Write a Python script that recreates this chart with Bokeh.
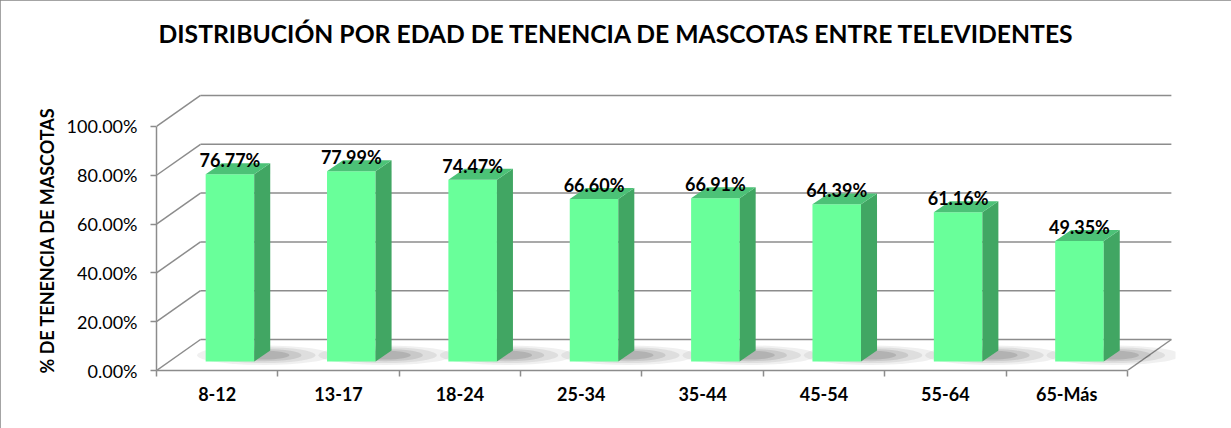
from bokeh.plotting import figure
from bokeh.models import Range1d, FixedTicker, PrintfTickFormatter, ColumnDataSource, Title
from bokeh.core.properties import value
from bokeh.embed import file_html
from bokeh.resources import INLINE

categories = ["8-12", "13-17", "18-24", "25-34", "35-44", "45-54", "55-64", "65-Más"]
values = [76.77, 77.99, 74.47, 66.60, 66.91, 64.39, 61.16, 49.35]
y_ticks = [0, 20, 40, 60, 80, 100]
title_text = "DISTRIBUCIÓN POR EDAD DE TENENCIA DE MASCOTAS ENTRE TELEVIDENTES"
y_title = "% DE TENENCIA DE MASCOTAS"

W, H = 1231, 428
FONT = "Lato"
n = len(categories)
DX, DY = 0.3625, 12.7     # floor depth (category units, % units)
F0 = 0.29                 # bar front-face depth fraction
BW = 0.40                 # bar width (category units)
BDX, BDY = 0.132, 4.5     # bar depth
FRONT = "#69FF9A"
SIDE = "#41A663"
TOP = "#4CC277"
GRID = "#8C8C8C"

p = figure(width=W, height=H, x_range=Range1d(0, n + DX + 0.034), y_range=Range1d(0, 113.5),
           output_backend="svg", toolbar_location=None,
           min_border_left=156, min_border_right=56, min_border_top=93, min_border_bottom=58)
p.styles = {"outline": "2px solid #868686", "outline-offset": "-2px"}
p.outline_line_color = None
p.xgrid.visible = False
p.ygrid.visible = False

# spacer between frame and title, then the title itself
p.add_layout(Title(text=" ", text_font_size="10px", standoff=28), "above")
p.add_layout(Title(text=title_text, align="left", offset=2, text_font=FONT, text_font_size="24.7px",
                   text_font_style="bold", text_color="black", standoff=10), "above")

# y axis
ya = p.yaxis[0]
ya.bounds = (0, 100)
ya.ticker = FixedTicker(ticks=y_ticks)
ya.formatter = PrintfTickFormatter(format="%.2f%%")
ya.axis_line_color = GRID
ya.axis_line_width = 1.5
ya.major_tick_line_color = GRID
ya.major_tick_line_width = 1.5
ya.major_tick_out = 6
ya.major_tick_in = 0
ya.minor_tick_line_color = None
ya.major_label_text_font = FONT
ya.major_label_text_font_size = "18px"
ya.major_label_text_color = "black"
ya.major_label_standoff = 13

# y axis title, placed outside the tick labels, starting near the 0% level
p.add_layout(Title(text=y_title, align="left", offset=-3, text_font=FONT, text_font_size="18px",
                   text_font_style="bold", text_color="black", standoff=12), "left")

# x axis
xa = p.xaxis[0]
xa.bounds = (0, n)
centers = [i + 0.5 for i in range(n)]
xa.ticker = FixedTicker(ticks=centers, minor_ticks=list(range(n + 1)))
xa.major_label_overrides = {c: lab for c, lab in zip(centers, categories)}
xa.axis_line_color = GRID
xa.axis_line_width = 1.5
xa.major_tick_line_color = None
xa.major_tick_out = 0
xa.major_tick_in = 0
xa.minor_tick_line_color = GRID
xa.minor_tick_line_width = 1.5
xa.minor_tick_out = 6
xa.minor_tick_in = 0
xa.major_label_text_font = FONT
xa.major_label_text_font_size = "18px"
xa.major_label_text_font_style = "bold"
xa.major_label_text_color = "black"
xa.major_label_standoff = 6

# walls: back gridlines and side diagonals
p.segment(x0=[DX] * len(y_ticks), y0=[t + DY for t in y_ticks],
          x1=[n + DX] * len(y_ticks), y1=[t + DY for t in y_ticks],
          line_color=GRID, line_width=1.5)
p.segment(x0=[0] * len(y_ticks), y0=y_ticks, x1=[DX] * len(y_ticks), y1=[t + DY for t in y_ticks],
          line_color=GRID, line_width=1.5)
# floor right edge
p.segment(x0=[n], y0=[0], x1=[n + DX], y1=[DY], line_color=GRID, line_width=1.5)

# bar geometry
ox, oy = F0 * DX, F0 * DY
lefts = [i + 0.5 - BW / 2 + ox for i in range(n)]
rights = [l + BW for l in lefts]
tops = [oy + v for v in values]

# soft shadows on the floor
for w, h, a in [(1.1, 8.0, 0.08), (0.85, 6.5, 0.10), (0.62, 5.0, 0.13), (0.42, 3.6, 0.16)]:
    p.ellipse(x=[r + 0.08 for r in rights], y=[oy + 2.6] * n, width=w, height=h,
              fill_color="#404040", fill_alpha=a, line_color=None)

# front faces
p.quad(left=lefts, right=rights, bottom=[oy] * n, top=tops, fill_color=FRONT, line_color=None)
# side faces
side_xs = [[r, r + BDX, r + BDX, r] for r in rights]
side_ys = [[oy, oy + BDY, t + BDY, t] for t in tops]
p.patches(side_xs, side_ys, fill_color=SIDE, line_color=None)
# top faces
top_xs = [[l, r, r + BDX, l + BDX] for l, r in zip(lefts, rights)]
top_ys = [[t, t, t + BDY, t + BDY] for t in tops]
p.patches(top_xs, top_ys, fill_color=TOP, line_color=None)

# data labels
src = ColumnDataSource(dict(x=[(l + r) / 2 for l, r in zip(lefts, rights)],
                            y=[t + BDY + 1.2 for t in tops],
                            txt=["%.2f%%" % v for v in values]))
p.text(x="x", y="y", text="txt", source=src, text_font=value(FONT), text_font_size="18px",
       text_font_style="bold", text_align="center", text_baseline="alphabetic", text_color="black")

open("out.html", "w").write(file_html(p, INLINE))
